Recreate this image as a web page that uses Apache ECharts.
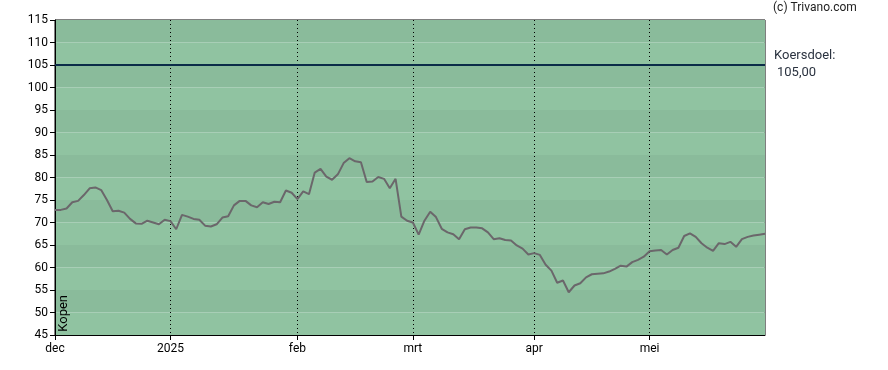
<!DOCTYPE html>
<html>
<head>
<meta charset="utf-8">
<script src="https://cdn.jsdelivr.net/npm/echarts@6/dist/echarts.min.js"></script>
<style>
  html, body { margin: 0; padding: 0; background: #ffffff; }
  #chart { width: 888px; height: 370px; }
</style>
</head>
<body>
<div id="chart"></div>
<script>
// Month labels on the x axis and the trading-day index where each month starts
const monthLabels = ['dec', '2025', 'feb', 'mrt', 'apr', 'mei'];
const monthStartIdx = [0, 20, 42, 62, 83, 103];

// Daily closing prices (one per trading day, dec 2024 - mei 2025)
const prices = [
  72.8, 72.8, 73.1, 74.5, 74.8, 76.1, 77.6, 77.8, 77.2, 75.0,
  72.5, 72.6, 72.2, 70.8, 69.8, 69.7, 70.4, 70.0, 69.6, 70.6,
  70.3, 68.5, 71.7, 71.3, 70.8, 70.6, 69.3, 69.1, 69.6, 71.1,
  71.4, 73.8, 74.8, 74.8, 73.8, 73.4, 74.5, 74.1, 74.6, 74.5,
  77.1, 76.6, 75.2, 76.9, 76.3, 81.1, 81.9, 80.2, 79.5, 80.7,
  83.2, 84.3, 83.6, 83.4, 79.0, 79.1, 80.1, 79.7, 77.6, 79.7,
  71.3, 70.4, 70.0, 67.3, 70.4, 72.4, 71.2, 68.6, 67.8, 67.4,
  66.3, 68.5, 68.9, 68.9, 68.7, 67.8, 66.3, 66.5, 66.1, 66.0,
  64.9, 64.2, 62.9, 63.2, 62.8, 60.6, 59.3, 56.6, 57.1, 54.5,
  56.0, 56.5, 57.8, 58.5, 58.6, 58.7, 59.1, 59.7, 60.4, 60.2,
  61.2, 61.7, 62.4, 63.6, 63.8, 63.9, 62.9, 63.9, 64.4, 67.0,
  67.6, 66.8, 65.4, 64.4, 63.7, 65.4, 65.2, 65.7, 64.6, 66.3,
  66.8, 67.1, 67.3, 67.5
];

const targetPrice = 105;
const targetLabel = '105,00';
const yTicks = { min: 45, max: 115, step: 5 };

const categories = prices.map((_, i) => String(i));
const isMonthStart = (idx) => monthStartIdx.indexOf(idx) >= 0;

const FONT = 'Roboto, "Liberation Sans", sans-serif';

const chart = echarts.init(document.getElementById('chart'), null, { renderer: 'canvas' });

chart.setOption({
  animation: false,
  backgroundColor: '#ffffff',
  grid: {
    left: 55, top: 20, right: 123, bottom: 35,
    show: true, borderColor: '#000000', borderWidth: 1,
    backgroundColor: 'transparent'
  },
  xAxis: {
    type: 'category',
    data: categories,
    boundaryGap: false,
    axisLine: { show: true, lineStyle: { color: '#000000', width: 1 } },
    axisTick: { show: true, length: 5, interval: (idx) => isMonthStart(idx), lineStyle: { color: '#000000' } },
    axisLabel: {
      show: true,
      interval: (idx) => isMonthStart(idx),
      formatter: (val, idx) => {
        const k = monthStartIdx.indexOf(idx);
        return k >= 0 ? monthLabels[k] : '';
      },
      color: '#000000', fontSize: 12, fontFamily: FONT, margin: 8
    },
    splitLine: {
      show: true,
      interval: (idx) => isMonthStart(idx) && idx > 0,
      lineStyle: { color: '#000000', width: 1, type: [1, 3] }
    }
  },
  yAxis: {
    type: 'value',
    min: yTicks.min, max: yTicks.max, interval: yTicks.step,
    axisLine: { show: true, lineStyle: { color: '#000000', width: 1 } },
    axisTick: { show: true, length: 5, lineStyle: { color: '#000000' } },
    axisLabel: { color: '#000000', fontSize: 12, fontFamily: FONT, margin: 7 },
    splitLine: { show: false },
    splitArea: { show: true, areaStyle: { color: ['#90c3a1', '#8abb9b'] } }
  },
  series: [{
    type: 'line',
    data: prices,
    showSymbol: false,
    symbol: 'none',
    smooth: false,
    lineStyle: { color: '#6b676b', width: 2 },
    z: 5,
    markLine: {
      silent: true,
      symbol: ['none', 'none'],
      label: { show: false },
      lineStyle: { color: '#0b2c48', width: 2, type: 'solid' },
      data: [{ yAxis: targetPrice }]
    }
  }],
  graphic: [
    { type: 'text', z: 100, left: 773, top: 2, style: { text: '(c) Trivano.com', fill: '#222222', font: '12px ' + FONT } },
    { type: 'text', z: 100, left: 774, top: 49, style: { text: 'Koersdoel:', fill: '#2b3340', font: '13px ' + FONT } },
    { type: 'text', z: 100, left: 777, top: 66, style: { text: targetLabel, fill: '#2b3340', font: '13px ' + FONT } },
    { type: 'text', z: 100, left: 57, top: 295, rotation: Math.PI / 2, style: { text: 'Kopen', fill: '#000000', font: '13px ' + FONT } }
  ]
});
</script>
</body>
</html>
